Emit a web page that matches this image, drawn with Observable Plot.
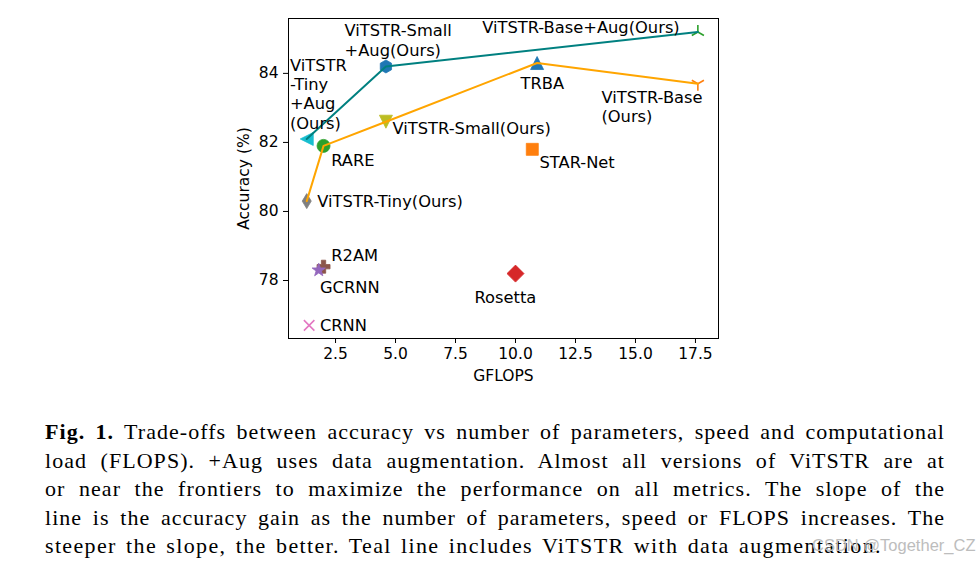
<!DOCTYPE html>
<html>
<head>
<meta charset="utf-8">
<script src="https://cdn.jsdelivr.net/npm/d3@7"></script>
<script src="https://cdn.jsdelivr.net/npm/@observablehq/plot@0.6"></script>
<style>
  html, body { margin: 0; padding: 0; background: #fff; width: 980px; height: 564px; overflow: hidden; }
  #chart { position: absolute; left: 0; top: 0; }
  #cap { position: absolute; left: 45px; top: 418px; width: 900px; font-family: "Liberation Serif", serif; font-size: 22px; letter-spacing: 1.05px; word-spacing: 2.5px; line-height: 28.5px; color: #000; }
  #cap .l { text-align: justify; text-align-last: justify; white-space: nowrap; }
  #cap .last { text-align: left; text-align-last: left; letter-spacing: 1.35px; }
  #wm { position: absolute; left: 812px; top: 536px; font-family: "Liberation Sans", sans-serif; font-size: 16.5px; color: #bdbdbd; }
</style>
</head>
<body>
<div id="chart"></div>
<div id="cap">
  <div class="l"><b>Fig. 1.</b> Trade-offs between accuracy vs number of parameters, speed and computational</div>
  <div class="l">load (FLOPS). +Aug uses data augmentation. Almost all versions of ViTSTR are at</div>
  <div class="l">or near the frontiers to maximize the performance on all metrics. The slope of the</div>
  <div class="l">line is the accuracy gain as the number of parameters, speed or FLOPS increases. The</div>
  <div class="l last">steeper the slope, the better. Teal line includes ViTSTR with data augmentation.</div>
</div>
<div id="wm">CSDN @Together_CZ</div>
<script>
// ---- data ----
const models = ["CRNN", "R2AM", "GCRNN", "Rosetta", "RARE", "STAR-Net", "TRBA",
  "ViTSTR-Tiny", "ViTSTR-Small", "ViTSTR-Base",
  "ViTSTR-Tiny+Aug", "ViTSTR-Small+Aug", "ViTSTR-Base+Aug"];
const gflops = [1.4, 2.0, 1.8, 10.0, 2.0, 10.7, 10.9, 1.3, 4.6, 17.6, 1.3, 4.6, 17.6];
const accuracy = [76.7, 78.4, 78.3, 78.2, 81.9, 81.8, 84.3, 80.3, 82.6, 83.7, 82.1, 84.2, 85.2];
const pointLabels = ["CRNN", "R2AM", "GCRNN", "Rosetta", "RARE", "STAR-Net", "TRBA",
  "ViTSTR-Tiny(Ours)", "ViTSTR-Small(Ours)", "ViTSTR-Base\n(Ours)",
  "ViTSTR\n-Tiny\n+Aug\n(Ours)", "ViTSTR-Small\n+Aug(Ours)", "ViTSTR-Base+Aug(Ours)"];
// label anchor (left, middle) in data units
const labelX = [1.85, 2.32, 1.85, 8.29, 2.32, 11.0, 10.21, 1.74, 4.875, 13.58, 0.6, 2.875, 8.61];
const labelY = [76.72, 78.75, 77.81, 77.52, 81.51, 81.43, 83.72, 80.3, 82.41, 83.04, 83.42, 84.97, 85.34];
const frontier = ["ViTSTR-Tiny", "RARE", "ViTSTR-Small", "TRBA", "ViTSTR-Base"];
const frontierAug = ["ViTSTR-Tiny+Aug", "ViTSTR-Small+Aug", "ViTSTR-Base+Aug"];
const xTicks = [2.5, 5.0, 7.5, 10.0, 12.5, 15.0, 17.5];
const yTicks = [78, 80, 82, 84];

// ---- custom marker shapes (matplotlib-like) ----
const R = s => Math.sqrt(s / Math.PI);
const poly = (c, pts) => { c.moveTo(pts[0][0], pts[0][1]); for (let i = 1; i < pts.length; i++) c.lineTo(pts[i][0], pts[i][1]); c.closePath(); };
const symbols = {
  times: { draw(c, s) { const r = R(s) * 0.75; c.moveTo(-r, -r); c.lineTo(r, r); c.moveTo(-r, r); c.lineTo(r, -r); } },
  plusFilled: { draw(c, s) { const r = R(s), t = r / 3; poly(c, [[-t,-r],[t,-r],[t,-t],[r,-t],[r,t],[t,t],[t,r],[-t,r],[-t,t],[-r,t],[-r,-t],[-t,-t]]); } },
  diamond: { draw(c, s) { const r = R(s); poly(c, [[0,-r],[r,0],[0,r],[-r,0]]); } },
  thinDiamond: { draw(c, s) { const r = R(s); poly(c, [[0,-r],[r*0.6,0],[0,r],[-r*0.6,0]]); } },
  circle: { draw(c, s) { const r = R(s); c.moveTo(r, 0); c.arc(0, 0, r, 0, 2 * Math.PI); } },
  square: { draw(c, s) { const r = R(s); poly(c, [[-r,-r],[r,-r],[r,r],[-r,r]]); } },
  triUpFilled: { draw(c, s) { const r = R(s); poly(c, [[0,-r],[r,r],[-r,r]]); } },
  triDownFilled: { draw(c, s) { const r = R(s); poly(c, [[0,r],[r,-r],[-r,-r]]); } },
  triLeftFilled: { draw(c, s) { const r = R(s); poly(c, [[-r,0],[r,-r],[r,r]]); } },
  hexagon: { draw(c, s) { const r = R(s); const p = []; for (let i = 0; i < 6; i++) { const a = Math.PI / 3 * i - Math.PI / 2; p.push([r * Math.cos(a), r * Math.sin(a)]); } poly(c, p); } },
  starFilled: { draw(c, s) { const r = R(s), ri = r * 0.4; const p = []; for (let i = 0; i < 10; i++) { const a = Math.PI / 5 * i - Math.PI / 2; const rr = i % 2 ? ri : r; p.push([rr * Math.cos(a), rr * Math.sin(a)]); } poly(c, p); } },
  triDownLines: { draw(c, s) { const r = R(s); c.moveTo(0, 0); c.lineTo(0, r); c.moveTo(0, 0); c.lineTo(r * 0.866, -r * 0.5); c.moveTo(0, 0); c.lineTo(-r * 0.866, -r * 0.5); } },
  triUpLines: { draw(c, s) { const r = R(s); c.moveTo(0, 0); c.lineTo(0, -r); c.moveTo(0, 0); c.lineTo(r * 0.866, r * 0.5); c.moveTo(0, 0); c.lineTo(-r * 0.866, r * 0.5); } }
};

// style per model (not data)
const style = {
  "CRNN": { sym: "times", color: "#e377c2", r: 7, line: true },
  "R2AM": { sym: "plusFilled", color: "#8c564b", r: 6.5 },
  "GCRNN": { sym: "starFilled", color: "#9467bd", r: 7 },
  "Rosetta": { sym: "diamond", color: "#d62728", r: 8.5 },
  "RARE": { sym: "circle", color: "#2ca02c", r: 6.5 },
  "STAR-Net": { sym: "square", color: "#ff7f0e", r: 6 },
  "TRBA": { sym: "triUpFilled", color: "#1f77b4", r: 6.5 },
  "ViTSTR-Tiny": { sym: "thinDiamond", color: "#7f7f7f", r: 7.5 },
  "ViTSTR-Small": { sym: "triDownFilled", color: "#bcbd22", r: 6.5 },
  "ViTSTR-Base": { sym: "triDownLines", color: "#ff7f0e", r: 7, line: true },
  "ViTSTR-Tiny+Aug": { sym: "triLeftFilled", color: "#17becf", r: 6.5 },
  "ViTSTR-Small+Aug": { sym: "hexagon", color: "#1f77b4", r: 6.5 },
  "ViTSTR-Base+Aug": { sym: "triUpLines", color: "#2ca02c", r: 7, line: true }
};

const rows = models.map((m, i) => ({ model: m, x: gflops[i], y: accuracy[i], label: pointLabels[i], lx: labelX[i], ly: labelY[i] }));
const byName = Object.fromEntries(rows.map(d => [d.model, d]));

const dotMarks = rows.map(d => {
  const st = style[d.model];
  return Plot.dot([d], {
    x: "x", y: "y", symbol: symbols[st.sym], r: st.r,
    fill: st.line ? "none" : st.color,
    stroke: st.color, strokeWidth: st.line ? 1.6 : 0.8
  });
});

const chart = Plot.plot({
  width: 980,
  height: 400,
  marginLeft: 288,
  marginRight: 262,
  marginTop: 18,
  marginBottom: 62,
  style: { fontFamily: "DejaVu Sans, sans-serif", fontSize: "15.5px", color: "#000", background: "#fff" },
  x: { domain: [0.54, 18.46] },
  y: { domain: [76.32, 85.59] },
  marks: [
    Plot.axisX({ ticks: xTicks, tickFormat: d => d.toFixed(1), tickSize: 5, tickPadding: 4, fontSize: 15.5,
      label: "GFLOPS", labelAnchor: "center", labelArrow: "none", labelOffset: 42 }),
    Plot.axisY({ ticks: yTicks, tickFormat: d => String(d), tickSize: 5, tickPadding: 5, fontSize: 15.5,
      label: "Accuracy (%)", labelAnchor: "center", labelArrow: "none", labelOffset: 51 }),
    ...dotMarks,
    Plot.line(frontier.map(n => byName[n]), { x: "x", y: "y", stroke: "#ffa500", strokeWidth: 2 }),
    Plot.line(frontierAug.map(n => byName[n]), { x: "x", y: "y", stroke: "#008080", strokeWidth: 2 }),
    Plot.text(rows, { x: "lx", y: "ly", text: "label", textAnchor: "start", lineAnchor: "middle",
      lineHeight: 1.19, fontSize: 16.3, fill: "#000" }),
    Plot.frame({ stroke: "#000", strokeWidth: 1 })
  ]
});
document.getElementById("chart").appendChild(chart);
</script>
</body>
</html>
